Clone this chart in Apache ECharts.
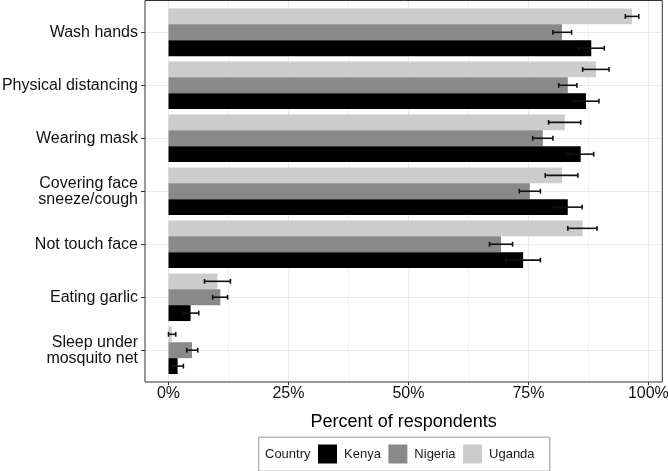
<!DOCTYPE html>
<html>
<head>
<meta charset="utf-8">
<script src="https://cdn.jsdelivr.net/npm/echarts@6/dist/echarts.min.js"></script>
<style>
html,body{margin:0;padding:0;background:#fff;}
#chart{width:668px;height:471px;}
</style>
</head>
<body>
<div id="chart"></div>
<script>
// ---- data (percent of respondents, with 95% CI) ----
const categories = ['Wash hands','Physical distancing','Wearing mask','Covering face\nsneeze/cough','Not touch face','Eating garlic','Sleep under\nmosquito net'];
const countries = ['Kenya','Nigeria','Uganda'];
const kenyaPct   = [88.1, 87.0, 85.9, 83.2, 73.9, 4.6, 1.9];
const kenyaLo    = [85.4, 84.3, 83.2, 80.2, 70.3, 2.9, 0.7];
const kenyaHi    = [90.8, 89.7, 88.6, 86.2, 77.5, 6.3, 3.1];
const nigeriaPct = [82.0, 83.2, 78.0, 75.3, 69.3, 10.8, 4.9];
const nigeriaLo  = [80.1, 81.3, 75.9, 73.1, 66.9, 9.2, 3.8];
const nigeriaHi  = [84.0, 85.1, 80.1, 77.5, 71.7, 12.3, 6.1];
const ugandaPct  = [96.6, 89.1, 82.6, 82.0, 86.3, 10.2, 0.7];
const ugandaLo   = [95.2, 86.3, 79.2, 78.5, 83.2, 7.5, 0.0];
const ugandaHi   = [98.0, 91.8, 85.9, 85.3, 89.3, 12.9, 1.5];
const xTickValues = [0, 25, 50, 75, 100];

const colors = {Kenya:'#000000', Nigeria:'#898989', Uganda:'#cccccc'};

// ---- layout ----
const PL = 145, PR = 662.3, PT = 0.5, PB = 382;
const allHi = kenyaHi.concat(nigeriaHi, ugandaHi);
const maxV = Math.max.apply(null, allHi);
const xMin = -0.05 * maxV, xMax = maxV * 1.05;
const pxPer = (PR - PL) / (xMax - xMin);
const x0 = PL + (0 - xMin) * pxPer;
const x100 = PL + (100 - xMin) * pxPer;
const nCat = categories.length;
const u = (PB - PT) / (nCat + 0.2);
const FONT = '"Liberation Sans", Arial, sans-serif';

// order top->bottom within each group
const drawOrder = [
  {name:'Uganda', pct:ugandaPct, lo:ugandaLo, hi:ugandaHi},
  {name:'Nigeria', pct:nigeriaPct, lo:nigeriaLo, hi:nigeriaHi},
  {name:'Kenya', pct:kenyaPct, lo:kenyaLo, hi:kenyaHi}
];

function errRenderer(k){
  return function(params, api){
    const lo = api.value(0), hi = api.value(1), c = api.value(2);
    const p0 = api.coord([lo, c]);
    const p1 = api.coord([hi, c]);
    const band = api.size([0, 1])[1];
    const y = p0[1] - 0.45 * band + (k + 0.5) * 0.3 * band;
    const cap = 2.4;
    const st = {stroke:'#111', lineWidth:1.6};
    return {type:'group', children:[
      {type:'line', shape:{x1:p0[0], y1:y, x2:p1[0], y2:y}, style:st},
      {type:'line', shape:{x1:p0[0], y1:y-cap, x2:p0[0], y2:y+cap}, style:st},
      {type:'line', shape:{x1:p1[0], y1:y-cap, x2:p1[0], y2:y+cap}, style:st}
    ]};
  };
}

const series = [];
drawOrder.forEach(function(s){
  series.push({
    type:'bar', name:s.name, xAxisIndex:3, yAxisIndex:3,
    data:s.pct, barCategoryGap:'10%', barGap:'0%',
    itemStyle:{color:colors[s.name]}, silent:true, z:2
  });
});
drawOrder.forEach(function(s, k){
  series.push({
    type:'custom', name:s.name + ' CI', xAxisIndex:3, yAxisIndex:3,
    data:s.lo.map(function(v, i){ return [v, s.hi[i], i]; }),
    encode:{x:[0,1], y:2},
    renderItem:errRenderer(k), silent:true, z:5
  });
});

const gridLine = {lineStyle:{color:'#ebebeb', width:1}};

const option = {
  animation:false,
  textStyle:{fontFamily:FONT},
  grid:[
    {left:PL, top:PT, width:PR-PL, height:PB-PT, show:true, borderColor:'#333', borderWidth:1, backgroundColor:'transparent', outerBoundsMode:'none', z:3},
    {left:x0, top:PT, width:x100-x0, height:PB-PT, outerBoundsMode:'none'},
    {left:PL, top:PT+0.6*u, width:PR-PL, height:(nCat-1)*u, outerBoundsMode:'none'},
    {left:x0, top:PT+0.1*u, width:x100-x0, height:nCat*u, outerBoundsMode:'none'}
  ],
  xAxis:[
    {gridIndex:0, type:'value', min:xMin, max:xMax,
     axisLine:{show:false}, axisTick:{show:false}, axisLabel:{show:false}, splitLine:{show:false},
     name:'Percent of respondents', nameLocation:'middle', nameGap:31,
     nameTextStyle:{fontSize:18, color:'#000', fontFamily:FONT}},
    {gridIndex:1, type:'value', min:xTickValues[0], max:xTickValues[xTickValues.length-1], interval:xTickValues[1]-xTickValues[0],
     axisLine:{show:false}, axisTick:{show:true, length:3, lineStyle:{color:'#333'}},
     axisLabel:{formatter:'{value}%', fontSize:16, color:'#111', margin:4, fontFamily:FONT},
     splitLine:gridLine,
     minorTick:{show:false, splitNumber:2},
     minorSplitLine:{show:true, lineStyle:{color:'#ebebeb', width:0.7}}},
    {gridIndex:2, type:'value', show:false},
    {gridIndex:3, type:'value', min:0, max:100, show:false}
  ],
  yAxis:[
    {gridIndex:0, type:'value', show:false},
    {gridIndex:1, type:'value', show:false},
    {gridIndex:2, type:'category', data:categories, boundaryGap:false, inverse:true,
     axisLine:{show:false}, axisTick:{show:true, length:4, interval:0, lineStyle:{color:'#333'}},
     axisLabel:{fontSize:16, color:'#111', margin:7, lineHeight:16, interval:0, fontFamily:FONT},
     splitLine:{show:true, interval:0, lineStyle:{color:'#ebebeb', width:1}}},
    {gridIndex:3, type:'category', data:categories, inverse:true, show:false}
  ],
  legend:{
    data:countries, selectedMode:false, left:318, top:444.5, padding:0,
    itemWidth:19, itemHeight:19, itemGap:7.5, icon:'rect',
    textStyle:{fontSize:13, color:'#1a1a1a', fontFamily:FONT, padding:[0,0,0,2]}
  },
  graphic:[
    {type:'rect', left:258.3, top:436.7, shape:{width:291, height:34}, style:{fill:'#fff', stroke:'#999', lineWidth:1}, z:-1},
    {type:'text', left:265, top:447.5, style:{text:'Country', fontSize:13, fill:'#1a1a1a', font:'13px ' + FONT}}
  ],
  series:series
};

const chart = echarts.init(document.getElementById('chart'), null, {renderer:'canvas'});
chart.setOption(option);
</script>
</body>
</html>
